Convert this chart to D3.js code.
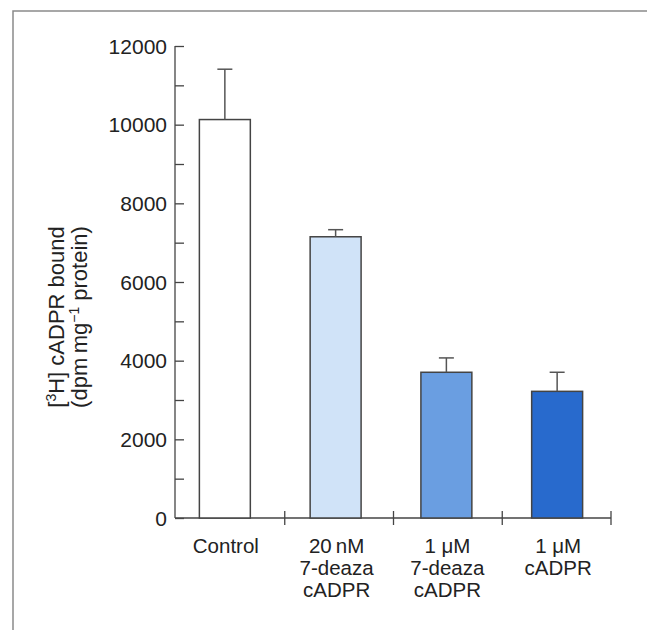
<!DOCTYPE html>
<html>
<head>
<meta charset="utf-8">
<script src="https://cdn.jsdelivr.net/npm/d3@7/dist/d3.min.js"></script>
<style>
  html, body { margin: 0; padding: 0; background: #fff; }
  svg { display: block; }
  text { font-family: "Liberation Sans", Arial, Helvetica, sans-serif; fill: #222; }
</style>
</head>
<body>
<svg id="chart" width="647" height="630"></svg>
<script>
// ---- Data ----
const categories = ["Control", "20nM_7deaza", "1uM_7deaza", "1uM_cADPR"];
const categoryLabels = [
  ["Control"],
  ["20\u2009nM", "7-deaza", "cADPR"],
  ["1 \u03bcM", "7-deaza", "cADPR"],
  ["1 \u03bcM", "cADPR"]
];
const means  = [10130, 7150, 3705, 3220];
const errors = [1280, 180, 365, 485];
const barColors = ["#ffffff", "#d0e3f8", "#6a9ee1", "#286acd"];
const yTicksMajor = [0, 2000, 4000, 6000, 8000, 10000, 12000];
const yTicksMinor = [1000, 3000, 5000, 7000, 9000, 11000];

// ---- Scales ----
const svg = d3.select("#chart");
const y = d3.scaleLinear().domain([0, 12000]).range([518, 46]);
const xBar = d3.scaleBand().domain(categories).range([144, 638]).paddingInner(0.54).paddingOuter(0.5);
const xTick = d3.scaleBand().domain(categories).range([176, 611]).padding(0);

// ---- Frame ----
svg.append("path")
  .attr("d", "M13,630 L13,11 L647,11")
  .attr("fill", "none").attr("stroke", "#8a8a8a").attr("stroke-width", 1.5);

// ---- Y axis ----
const yAxis = d3.axisRight(y)
  .tickValues(yTicksMajor.concat(yTicksMinor))
  .tickSize(9).tickFormat("");
const gy = svg.append("g").attr("transform", "translate(175,0)").call(yAxis);
gy.select(".domain").attr("d", `M0,${y(12000)}V${y(0)}`).attr("stroke", "#444").attr("stroke-width", 1.3);
gy.selectAll(".tick line").attr("stroke", "#444").attr("stroke-width", 1.3);

svg.append("g").selectAll("text").data(yTicksMajor).join("text")
  .attr("x", 167).attr("y", d => y(d))
  .attr("text-anchor", "end").attr("dy", "0.36em")
  .attr("font-size", 21)
  .text(d => d);

// ---- X axis ----
svg.append("line")
  .attr("x1", 175).attr("x2", xTick.range()[1])
  .attr("y1", y(0)).attr("y2", y(0))
  .attr("stroke", "#444").attr("stroke-width", 1.3);
svg.append("g").selectAll("line").data(categories).join("line")
  .attr("x1", d => xTick(d) + xTick.bandwidth())
  .attr("x2", d => xTick(d) + xTick.bandwidth())
  .attr("y1", y(0) - 7).attr("y2", y(0) + 7)
  .attr("stroke", "#444").attr("stroke-width", 1.3);

// ---- Bars ----
svg.append("g").selectAll("rect").data(categories).join("rect")
  .attr("x", d => xBar(d))
  .attr("width", xBar.bandwidth())
  .attr("y", (d, i) => y(means[i]))
  .attr("height", (d, i) => y(0) - y(means[i]))
  .attr("fill", (d, i) => barColors[i])
  .attr("stroke", "#444").attr("stroke-width", 1.5);

// ---- Error bars ----
const eb = svg.append("g").attr("stroke", "#555").attr("stroke-width", 1.5);
categories.forEach((c, i) => {
  const cx = xBar(c) + xBar.bandwidth() / 2;
  eb.append("line").attr("x1", cx).attr("x2", cx)
    .attr("y1", y(means[i])).attr("y2", y(means[i] + errors[i]));
  eb.append("line").attr("x1", cx - 7.5).attr("x2", cx + 7.5)
    .attr("y1", y(means[i] + errors[i])).attr("y2", y(means[i] + errors[i]));
});

// ---- Category labels ----
categories.forEach((c, i) => {
  const cx = xBar(c) + xBar.bandwidth() / 2 + 1;
  const t = svg.append("text").attr("text-anchor", "middle").attr("font-size", 20.5);
  categoryLabels[i].forEach((line, j) => {
    t.append("tspan").attr("x", cx).attr("y", 553 + j * 22).text(line);
  });
});

// ---- Y axis title ----
const yl = svg.append("text")
  .attr("transform", `translate(0,317) rotate(-90)`)
  .attr("text-anchor", "middle").attr("font-size", 22);
const l1 = yl.append("tspan").attr("x", 0).attr("y", 64);
l1.append("tspan").text("[");
l1.append("tspan").attr("font-size", 14).attr("dy", -8).text("3");
l1.append("tspan").attr("dy", 8).text("H] cADPR bound");
const l2 = yl.append("tspan").attr("x", 0).attr("y", 87);
l2.append("tspan").text("(dpm\u2009mg");
l2.append("tspan").attr("font-size", 14).attr("dy", -8).text("\u22121");
l2.append("tspan").attr("dy", 8).text(" protein)");
</script>
</body>
</html>
